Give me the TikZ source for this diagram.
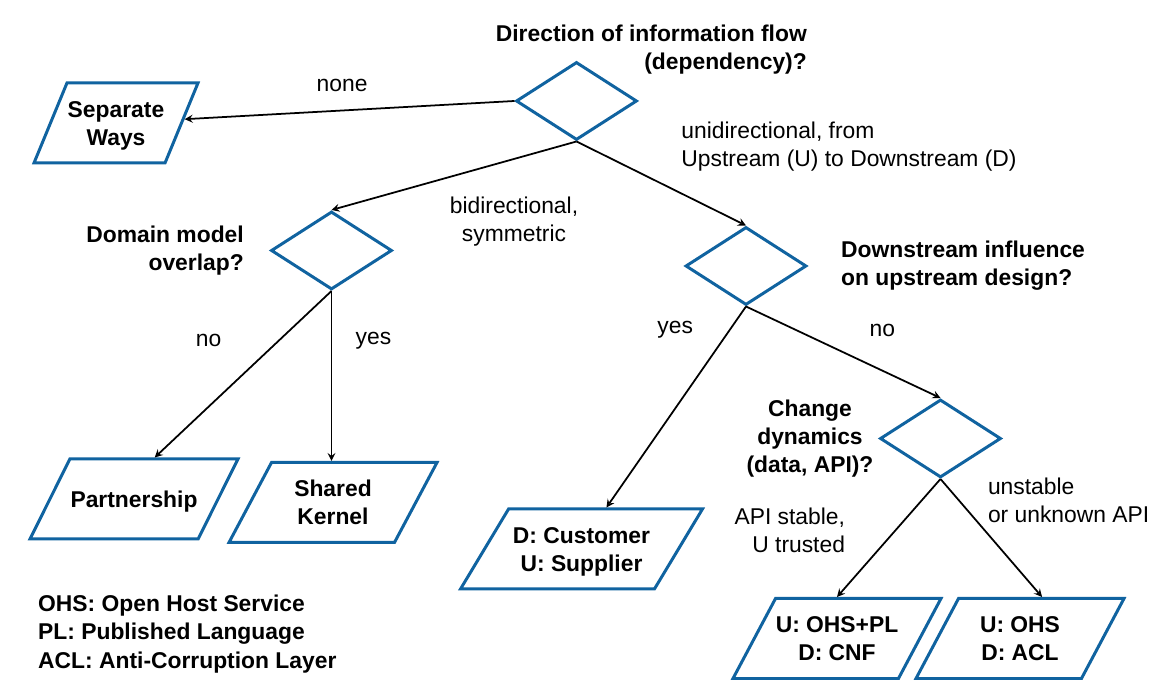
\documentclass[tikz,border=0pt]{standalone}
\usepackage{fontspec}
\setmainfont{Liberation Sans}
\usepackage{tikz}
\usetikzlibrary{shapes.geometric, arrows, positioning, calc}
\definecolor{mapblue}{RGB}{16,99,160}
\newcommand{\mapfont}{\fontsize{13}{16}\selectfont}
\tikzstyle{decision} = [diamond, minimum width=2.42cm, minimum height=1.56cm, inner sep=0pt, draw=mapblue, line width=1.7pt]
\tikzstyle{io} = [trapezium, trapezium left angle=62, trapezium right angle=118, trapezium stretches body, minimum width=4.16cm, minimum height=1.6cm, inner sep=0pt, text height=35.41pt, text depth=10.11pt, text centered, align=center, draw=mapblue, line width=1.7pt, font=\mapfont\bfseries]
\tikzstyle{question} = [align=center, font=\mapfont\bfseries]
\tikzstyle{arrow} = [line width=1pt,->,>=stealth]

\begin{document}
\begin{tikzpicture}[node distance=2cm, font=\mapfont]
		\useasboundingbox (0,0) rectangle (23.14,13.86);
		
		\node (dflow) [decision] at (11.53,11.84) {};
		\node (qflow) [question, right of=dflow, anchor=east, align=right, xshift=2.73cm, yshift=1.02cm] {Direction of information flow\\(dependency)?};
		
		\node (sepways) [io, left of=dflow, xshift=-7.21cm, yshift=-0.44cm][minimum width=3.28cm, trapezium left angle=67.6, trapezium right angle=112.4] {Separate\\Ways};
		
		\node (dmodel) [decision, below of=dflow, xshift=-4.9cm, yshift=-0.99cm] {};
		\node (qmodel) [question, left of=dmodel, anchor=east, align=right, xshift=0.37cm] {Domain model\\overlap?};
		
		\node (dinfl) [decision, below of=dflow, xshift=3.39cm, yshift=-1.3cm] {};
		\node (qinfl) [question, right of=dinfl, anchor=west, align=left, xshift=-0.22cm] {Downstream influence\\on upstream design?};
		
		\node (partner) [io, below of=dmodel, xshift=-3.95cm, yshift=-2.97cm][text height=27.41pt, text depth=18.11pt, trapezium left angle=63.5, trapezium right angle=116.5] {Partnership};
		\node (shared) [io, below of=dmodel, xshift=0.03cm, yshift=-3.04cm] {Shared\\Kernel};
		
		\node (custsup) [io, below of=dinfl, xshift=-3.29cm, yshift=-3.66cm][minimum width=4.84cm, trapezium left angle=59, trapezium right angle=121] {D: Customer\\U: Supplier};
		
		\node (dchange) [decision, below of=dinfl, xshift=3.89cm, yshift=-1.45cm] {};
		\node (qchange) [question, left of=dchange, xshift=-0.61cm] {Change\\dynamics\\(data, API)?};
		
		\node (ohspl) [io, below of=dchange, xshift=-2.07cm, yshift=-2cm] {U: OHS+PL\\D: CNF};
		\node (ohsacl) [io, below of=dchange, xshift=1.59cm, yshift=-2cm] {U: OHS\\D: ACL};
		
		\node (legend) [question, anchor=west, align=left] at (0.64,1.18) {OHS: Open Host Service\\PL: Published Language\\ACL: Anti-Corruption Layer};
		
		\draw [arrow] (dflow.west) -- node (lnone) [xshift=-0.15cm, yshift=0.49cm] {none} (sepways);
		\draw [arrow] (dflow.south) -- node (lbi) [align=center, xshift=1.2cm, yshift=-0.91cm] {bidirectional,\\symmetric} (dmodel.north);
		\draw [arrow] (dflow.south) -- node (luni) [align=left, anchor=west, xshift=0.27cm, yshift=0.73cm] {unidirectional, from\\Upstream (U) to Downstream (D)} (dinfl.north);
		\draw [arrow] (dmodel.south) -- node (lno1) [xshift=-0.69cm, yshift=0.68cm] {no} (partner.top side);
		\draw [arrow] (dmodel.south) -- node (lyes1) [xshift=0.84cm, yshift=0.71cm] {yes} (dmodel.south |- shared.north);
		\draw [arrow] (dinfl.south) -- node (lyes2) [xshift=-0.02cm, yshift=1.54cm] {yes} (custsup.top side);
		\draw [arrow] (dinfl.south) -- node (lno2) [xshift=0.78cm, yshift=0.43cm] {no} (dchange.north);
		\draw [arrow] (dchange.south) -- node (lstable) [align=right, anchor=east, xshift=-0.74cm, yshift=0.15cm] {API stable,\\U trusted} (ohspl.north);
		\draw [arrow] (dchange.south) -- node (lunstable) [align=left, anchor=west, xshift=-0.2cm, yshift=0.75cm] {unstable\\or unknown API} (ohsacl.top side);
		\end{tikzpicture}
\end{document}
